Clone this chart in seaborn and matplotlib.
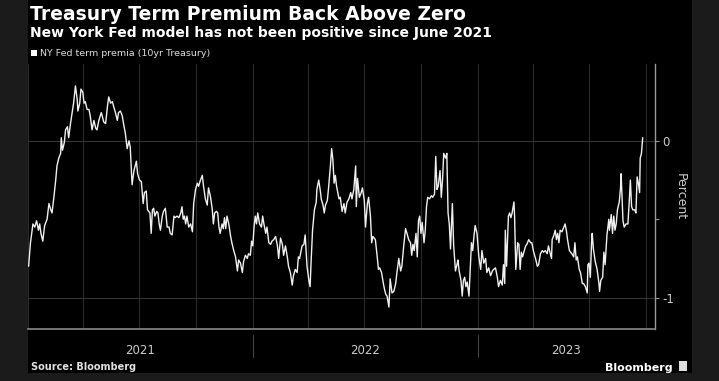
import numpy as np
import pandas as pd
import matplotlib
matplotlib.use("Agg")
import matplotlib.pyplot as plt
import matplotlib.dates as mdates
from matplotlib.patches import Rectangle, Patch
import seaborn as sns

TITLE = "Treasury Term Premium Back Above Zero"
SUBTITLE = "New York Fed model has not been positive since June 2021"
SERIES_LABEL = "NY Fed term premia (10yr Treasury)"
SOURCE = "Source: Bloomberg"
BRAND = "Bloomberg"
Y_LABEL = "Percent"

START = "2021-01-01"
X_END = "2023-10-16"
year_labels = ["2021", "2022", "2023"]
y_major = [-1, 0]
y_major_labels = ["-1", "0"]
y_minor = [-0.5]

# days since 2021-01-01
days = [1,4,8,11,14,17,19,21,24,27,31,34,37,39,42,45,47,50,53,54,56,59,61,64,66,69,72,74,77,80,81,84,86,89,91,93,96,99,101,104,107,110,112,115,119,123,126,129,131,134,137,139,142,145,147,150,153,156,158,161,164,166,
        169,172,176,178,181,184,187,189,192,194,198,200,202,204,206,209,211,213,215,218,220,223,226,229,231,234,237,239,242,245,248,250,252,254,256,258,261,264,267,269,272,275,277,280,283,285,288,291,293,296,299,301,303,306,308,310,312,315,317,319,321,323,326,329,331,334,337,
        340,342,345,348,350,353,356,358,361,363,365,367,369,371,373,376,379,381,383,386,388,391,394,396,399,402,405,407,410,413,415,418,421,423,426,429,431,434,437,439,441,443,445,448,450,453,456,458,460,462,465,468,469,472,475,476,479,481,483,486,488,491,493,495,497,499,501,505,507,
        510,513,515,518,521,524,526,529,532,533,535,538,541,543,546,548,551,553,556,558,560,564,567,569,571,574,577,579,581,583,586,588,591,594,597,599,602,605,607,610,613,616,618,621,623,625,627,630,632,634,636,638,640,643,645,647,649,652,655,657,660,662,664,666,669,671,673,675,
        678,680,682,684,686,689,691,694,697,698,700,703,705,707,709,711,713,716,718,720,722,724,726,729,732,735,737,740,743,745,748,751,754,756,759,762,764,767,770,772,774,775,777,780,782,784,786,789,790,792,795,797,799,801,803,805,808,810,813,816,818,821,824,827,829,832,835,837,840,843,845,848,
        850,851,854,856,858,860,862,864,867,870,872,874,876,879,881,883,886,888,890,892,895,897,900,902,905,908,909,911,913,915,916,918,921,924,927,928,930,933,935,937,940,943,944,947,949,951,953,955,957,960,962,963,966,968,971,974,976,978,980,982,985,987,989,991,993,994,996,998]

values = [-0.80,-0.65,-0.53,-0.55,-0.51,-0.57,-0.53,-0.59,-0.64,-0.54,-0.50,-0.40,-0.44,-0.46,-0.36,-0.25,-0.16,-0.11,-0.08,0.02,-0.06,-0.01,0.07,0.09,0.02,0.11,0.19,0.24,0.35,0.26,0.19,0.24,0.33,0.31,0.24,0.25,0.20,0.20,0.16,0.07,0.13,0.08,0.07,0.13,0.18,0.12,0.11,0.22,0.28,0.24,0.25,0.22,0.18,0.13,0.18,0.19,0.16,0.09,0.05,-0.05,0.00,-0.04,
          -0.28,-0.19,-0.13,-0.21,-0.25,-0.26,-0.40,-0.33,-0.32,-0.44,-0.46,-0.59,-0.44,-0.43,-0.48,-0.45,-0.46,-0.53,-0.57,-0.48,-0.45,-0.43,-0.55,-0.55,-0.59,-0.60,-0.48,-0.49,-0.48,-0.49,-0.46,-0.42,-0.50,-0.48,-0.53,-0.48,-0.55,-0.53,-0.58,-0.40,-0.31,-0.27,-0.29,-0.25,-0.22,-0.29,-0.37,-0.41,-0.30,-0.35,-0.43,-0.53,-0.46,-0.45,-0.46,-0.55,-0.59,-0.53,-0.56,-0.49,-0.56,-0.48,-0.53,-0.61,-0.65,-0.70,-0.74,
          -0.83,-0.76,-0.78,-0.84,-0.77,-0.73,-0.75,-0.72,-0.73,-0.64,-0.67,-0.55,-0.48,-0.53,-0.46,-0.53,-0.55,-0.48,-0.53,-0.59,-0.55,-0.65,-0.66,-0.64,-0.63,-0.61,-0.67,-0.75,-0.62,-0.66,-0.73,-0.67,-0.74,-0.80,-0.84,-0.92,-0.86,-0.82,-0.84,-0.74,-0.75,-0.71,-0.67,-0.66,-0.60,-0.80,-0.89,-0.93,-0.74,-0.57,-0.44,-0.39,-0.31,-0.25,-0.33,-0.37,-0.41,-0.46,-0.41,-0.38,-0.30,-0.16,-0.05,-0.12,-0.27,-0.22,-0.29,-0.37,-0.36,
          -0.45,-0.40,-0.46,-0.39,-0.37,-0.33,-0.37,-0.31,-0.16,-0.42,-0.24,-0.36,-0.33,-0.30,-0.38,-0.55,-0.40,-0.36,-0.48,-0.65,-0.61,-0.63,-0.74,-0.82,-0.81,-0.84,-0.91,-0.95,-0.98,-0.99,-1.06,-0.88,-0.97,-0.96,-0.91,-0.84,-0.75,-0.83,-0.80,-0.67,-0.56,-0.60,-0.63,-0.65,-0.73,-0.66,-0.70,-0.59,-0.74,-0.51,-0.48,-0.59,-0.52,-0.65,-0.57,-0.42,-0.36,-0.37,-0.35,-0.36,-0.34,-0.10,-0.31,-0.29,-0.19,-0.36,-0.25,-0.08,
          -0.11,-0.08,-0.46,-0.53,-0.69,-0.40,-0.66,-0.83,-0.78,-0.76,-0.83,-0.89,-0.99,-0.89,-0.87,-0.93,-0.90,-0.99,-0.82,-0.65,-0.70,-0.61,-0.54,-0.59,-0.74,-0.82,-0.70,-0.78,-0.75,-0.84,-0.81,-0.86,-0.83,-0.82,-0.81,-0.87,-0.93,-0.89,-0.92,-0.79,-0.91,-0.57,-0.80,-0.48,-0.46,-0.49,-0.46,-0.39,-0.48,-0.82,-0.65,-0.66,-0.82,-0.71,-0.74,-0.71,-0.67,-0.66,-0.63,-0.65,-0.65,-0.71,-0.75,-0.80,-0.79,-0.72,-0.70,-0.71,-0.70,-0.72,-0.67,-0.72,
          -0.75,-0.63,-0.60,-0.57,-0.63,-0.59,-0.65,-0.57,-0.58,-0.55,-0.53,-0.57,-0.63,-0.70,-0.71,-0.72,-0.74,-0.65,-0.76,-0.74,-0.82,-0.84,-0.91,-0.91,-0.93,-0.97,-0.79,-0.78,-0.87,-0.65,-0.59,-0.69,-0.77,-0.82,-0.91,-0.96,-0.89,-0.87,-0.71,-0.79,-0.60,-0.50,-0.57,-0.47,-0.59,-0.48,-0.57,-0.53,-0.44,-0.39,-0.30,-0.21,-0.51,-0.55,-0.53,-0.53,-0.40,-0.25,-0.42,-0.44,-0.44,-0.46,-0.23,-0.27,-0.33,-0.11,-0.08,0.02]

sns.set_theme(style="dark")
plt.rcParams['font.family'] = ['DejaVu Sans']

W, H = 719, 381
dates = pd.Timestamp(START) + pd.to_timedelta(days, unit="D")
df = pd.DataFrame({"date": dates, "premia": values})

fig = plt.figure(figsize=(W / 100, H / 100), dpi=100, facecolor='#1b1b1b')
fig.patches.append(Rectangle((27.7 / W, 8 / H), (692 - 27.7) / W, 1, transform=fig.transFigure,
                             facecolor='black', edgecolor='none', zorder=-10))

ax = fig.add_axes([28 / W, 1 - 329 / H, (655 - 28) / W, (329 - 64) / H])
ax.set_facecolor('black')
ax.grid(False)

for yv in y_major:
    ax.axhline(yv, color='#333333', lw=0.8, zorder=1)

sns.lineplot(data=df, x="date", y="premia", ax=ax, color='#f0f0f0', lw=1.0, zorder=3)

x0, x1 = pd.Timestamp(START), pd.Timestamp(X_END)
ax.set_xlim(x0, x1)
ax.set_ylim(-1.20, 0.49)

# x axis
ax.xaxis.set_major_locator(mdates.MonthLocator(bymonth=[1, 4, 7, 10]))
ax.xaxis.set_minor_locator(mdates.MonthLocator())
ax.xaxis.set_major_formatter(plt.NullFormatter())
ax.tick_params(axis='x', which='both', colors='#888888', length=2, width=0.8, direction='out')
ax.xaxis.grid(True, which='major', color='#2a2a2a', lw=0.8)
ax.set_xlabel("")

# y axis
ax.yaxis.tick_right()
ax.yaxis.set_label_position('right')
ax.set_yticks(y_major)
ax.set_yticklabels(y_major_labels)
ax.set_yticks(y_minor, minor=True)
ax.tick_params(axis='y', which='both', colors='#999999', labelcolor='#cccccc',
               length=3, width=0.8, labelsize=8.5, pad=2)
ax.set_ylabel(Y_LABEL, rotation=270, labelpad=9, color='#cccccc', fontsize=9)

for s in ['left', 'top']:
    ax.spines[s].set_visible(False)
ax.spines['right'].set_color('#999999')
ax.spines['bottom'].set_color('#888888')
ax.spines['right'].set_linewidth(1)
ax.spines['bottom'].set_linewidth(1.2)

# year labels and separators
trans = ax.get_xaxis_transform()
for lab in year_labels:
    ys = max(pd.Timestamp(f"{lab}-01-01"), x0)
    ye = min(pd.Timestamp(f"{int(lab) + 1}-01-01"), x1)
    mid = ys + (ye - ys) / 2
    ax.text(mid, -0.08, lab, transform=trans, ha='center', va='center',
            color='#cccccc', fontsize=8.5, clip_on=False)
    if pd.Timestamp(f"{lab}-01-01") > x0:
        ax.plot([ys, ys], [-0.023, -0.106], transform=trans, color='#444444', lw=0.8, clip_on=False)

# texts
fig.text(30 / W, 1 - 20 / H, TITLE, fontsize=13.5, fontweight='bold', color='white', va='baseline')
fig.text(30 / W, 1 - 37 / H, SUBTITLE, fontsize=10, fontweight='bold', color='white', va='baseline')
fig.legend([Patch(facecolor='white', edgecolor='none')], [SERIES_LABEL],
           loc='center left', bbox_to_anchor=(31 / W, 1 - 54 / H), frameon=False,
           handlelength=0.6, handleheight=0.6, handletextpad=0.3, borderaxespad=0,
           borderpad=0, fontsize=6.8, labelcolor='#dddddd')
fig.text(31 / W, 1 - 370 / H, SOURCE, fontsize=7, fontweight='bold', color='#e0e0e0', va='baseline')
fig.text(673 / W, 1 - 371 / H, BRAND, fontsize=8, fontweight='bold', color='white',
         ha='right', va='baseline')
fig.patches.append(Rectangle((679 / W, 1 - 371 / H), 8 / W, 10 / H, transform=fig.transFigure,
                             facecolor='#dddddd', edgecolor='none'))

fig.savefig("out.png", dpi=100, facecolor=fig.get_facecolor())
